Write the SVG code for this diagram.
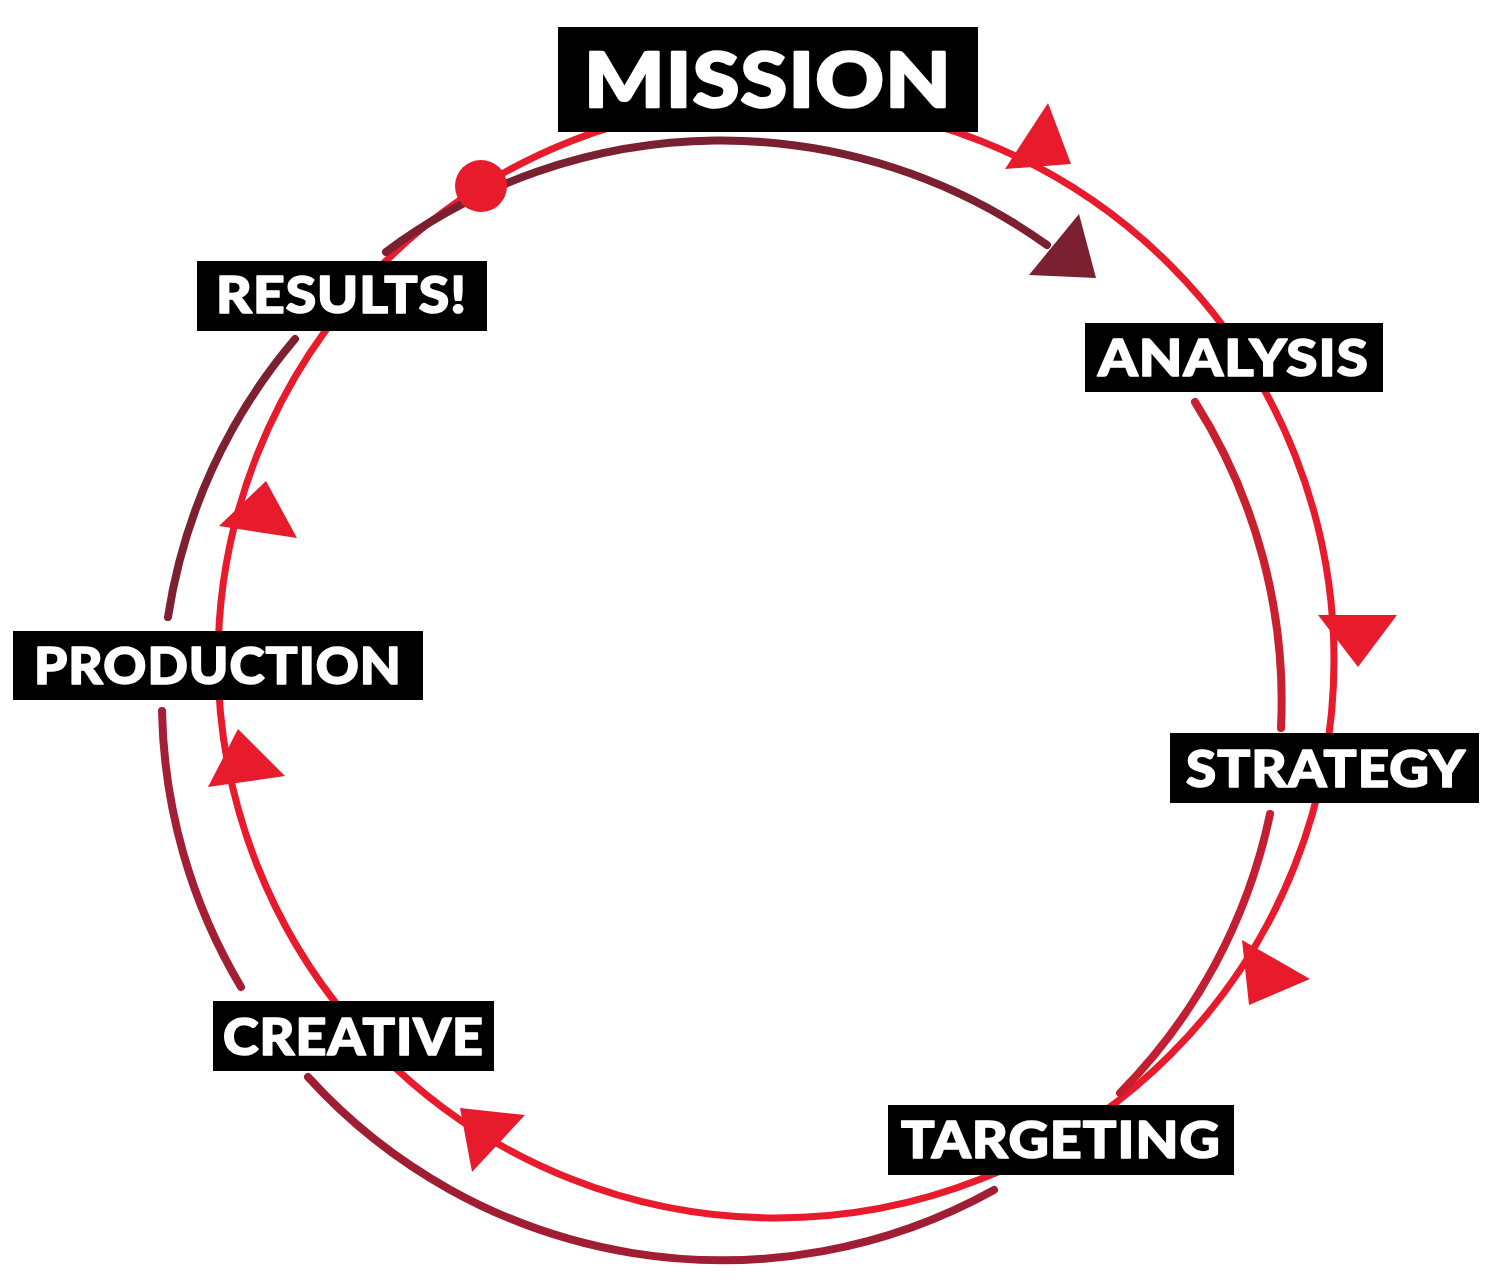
<svg xmlns="http://www.w3.org/2000/svg" width="1500" height="1288" viewBox="0 0 1500 1288">
<style>
.bg{fill:#ffffff}
.ring{fill:none;stroke:#E81B2D;stroke-width:7}
.arc{fill:none;stroke-width:8;stroke-linecap:round}
.tri{fill:#E81B2D}
.box{fill:#000000}
.lbl{fill:#ffffff;stroke:#ffffff;stroke-width:1.6px;stroke-linejoin:round;font-family:Lato,Roboto,"DejaVu Sans",sans-serif;font-weight:900;font-size:52px;letter-spacing:1px}
.big{font-size:76px;stroke-width:2.4px}
</style>
<rect class="bg" x="0" y="0" width="1500" height="1288"/>
<g id="connectors">
  <circle class="ring" cx="776" cy="660" r="558"/>
  <path class="arc" stroke="#7B2030" d="M 386 252 A 560 560 0 0 1 1047 245"/>
  <path class="arc" stroke="#C8202F" d="M 1195 402 A 560 560 0 0 1 1281 728"/>
  <path class="arc" stroke="#C41E32" d="M 1270 814 A 560 560 0 0 1 1120 1093"/>
  <path class="arc" stroke="#A01E34" d="M 994 1190 A 560 560 0 0 1 308 1077"/>
  <path class="arc" stroke="#A31F36" d="M 241 987 A 560 560 0 0 1 162 711"/>
  <path class="arc" stroke="#7D2131" d="M 168 617 A 560 560 0 0 1 295 339"/>
  <polygon class="tri" points="1048,103 1005,169 1071,164"/>
  <polygon class="tri" points="1318,615 1397,615 1358,667"/>
  <polygon class="tri" points="1242,940 1310,979 1249,1005"/>
  <polygon class="tri" points="460,1108 525,1115 472,1172"/>
  <polygon class="tri" points="266,481 297,538 219,526"/>
  <polygon class="tri" points="238,729 285,776 208,787"/>
  <polygon fill="#7B2030" points="1079,214 1029,275 1096,278"/>
  <circle fill="#E81B2D" cx="481" cy="186" r="26"/>
</g>
<g id="mission">
  <rect class="box" x="558" y="27" width="420" height="105"/>
  <text class="lbl big" x="584" y="107" textLength="368" lengthAdjust="spacingAndGlyphs">MISSION</text>
</g>
<g id="results">
  <rect class="box" x="197" y="261" width="290" height="70"/>
  <text class="lbl" x="216" y="313" textLength="251" lengthAdjust="spacingAndGlyphs">RESULTS!</text>
</g>
<g id="analysis">
  <rect class="box" x="1085" y="323" width="298" height="69"/>
  <text class="lbl" x="1098" y="376" textLength="271" lengthAdjust="spacingAndGlyphs">ANALYSIS</text>
</g>
<g id="strategy">
  <rect class="box" x="1170" y="733" width="309" height="70"/>
  <text class="lbl" x="1186" y="787" textLength="280" lengthAdjust="spacingAndGlyphs">STRATEGY</text>
</g>
<g id="production">
  <rect class="box" x="13" y="631" width="410" height="69"/>
  <text class="lbl" x="34" y="684" textLength="368" lengthAdjust="spacingAndGlyphs">PRODUCTION</text>
</g>
<g id="creative">
  <rect class="box" x="213" y="1001" width="281" height="70"/>
  <text class="lbl" x="223" y="1055" textLength="261" lengthAdjust="spacingAndGlyphs">CREATIVE</text>
</g>
<g id="targeting">
  <rect class="box" x="888" y="1105" width="346" height="70"/>
  <text class="lbl" x="901" y="1158" textLength="320" lengthAdjust="spacingAndGlyphs">TARGETING</text>
</g>
</svg>
